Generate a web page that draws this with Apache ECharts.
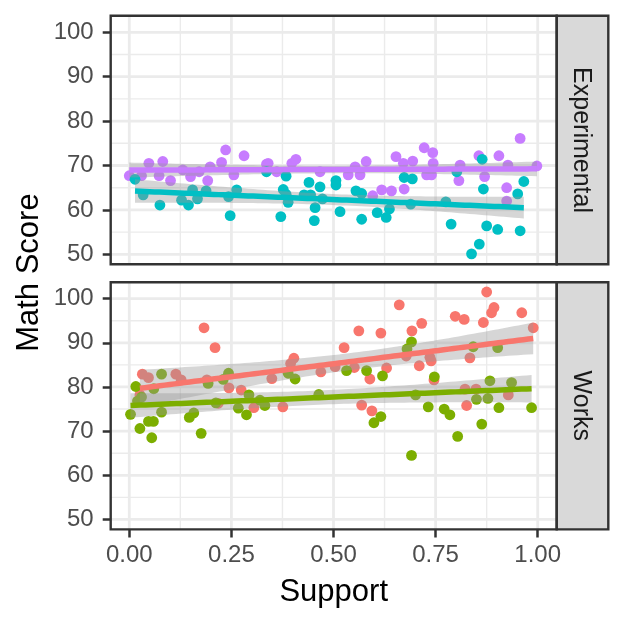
<!DOCTYPE html>
<html><head><meta charset="utf-8">
<script src="https://cdn.jsdelivr.net/npm/echarts@6/dist/echarts.min.js"></script>
<style>html,body{margin:0;padding:0;background:#fff}#c{width:624px;height:624px}</style>
</head><body><div id="c"></div>
<script>
// ---- data ----
const xTicks = [0, 0.25, 0.5, 0.75, 1];
const xMinorTicks = [0.125, 0.375, 0.625, 0.875];
const yTicks = [50, 60, 70, 80, 90, 100];
const yMinorTicks = [55, 65, 75, 85, 95];
const panelNames = ['Experimental', 'Works'];
const xTitle = 'Support';
const yTitle = 'Math Score';

const expPurpleX = [0.000,0.030,0.048,0.073,0.082,0.101,0.131,0.150,0.171,0.192,0.198,0.226,0.236,0.256,0.281,0.336,0.340,0.361,0.398,0.408,0.467,0.536,0.553,0.565,0.580,0.596,0.618,0.642,0.653,0.671,0.673,0.694,0.722,0.728,0.740,0.743,0.744,0.807,0.810,0.856,0.870,0.905,0.924,0.924,0.927,0.957,0.998];
const expPurpleY = [67.7,67.7,70.5,67.7,70.9,66.6,69.0,67.5,68.6,66.6,69.7,70.7,73.5,67.9,72.2,70.3,70.5,68.6,70.5,71.4,68.6,67.9,69.7,67.9,70.9,63.2,64.5,64.3,72.0,70.5,64.7,71.0,74.0,67.9,67.9,72.9,70.5,66.6,70.1,72.2,67.5,72.2,65.0,62.0,70.1,76.1,69.9];

const expCyanX = [0.014,0.034,0.075,0.128,0.145,0.155,0.167,0.188,0.243,0.247,0.263,0.336,0.371,0.377,0.384,0.384,0.389,0.428,0.440,0.444,0.453,0.455,0.467,0.473,0.506,0.506,0.516,0.555,0.569,0.569,0.607,0.629,0.637,0.673,0.689,0.693,0.775,0.788,0.802,0.838,0.857,0.864,0.867,0.875,0.902,0.951,0.957,0.966];
const expCyanY = [66.9,63.4,61.1,62.2,61.1,64.5,62.5,64.3,63.0,58.7,64.5,68.6,58.5,64.6,67.6,63.5,61.7,63.4,66.2,63.4,57.6,60.5,65.2,62.5,66.6,65.6,59.6,64.3,63.7,57.9,59.4,58.3,60.2,67.3,61.3,67.0,61.8,56.8,68.6,50.1,52.3,71.4,64.7,56.4,55.6,63.6,55.3,66.4];

const worksRedX = [0.026,0.032,0.047,0.114,0.127,0.183,0.190,0.210,0.218,0.244,0.274,0.305,0.349,0.376,0.395,0.403,0.469,0.504,0.526,0.551,0.562,0.569,0.589,0.594,0.616,0.630,0.661,0.678,0.692,0.710,0.716,0.736,0.739,0.746,0.798,0.820,0.822,0.826,0.834,0.849,0.867,0.875,0.887,0.893,0.928,0.961,0.989];
const worksRedY = [78.2,82.9,82.1,82.9,81.6,93.4,81.6,88.9,76.3,79.8,79.3,75.3,81.9,75.5,85.3,86.5,83.4,84.6,88.9,84.4,92.7,75.9,81.8,74.6,92.2,84.3,98.6,87.0,92.7,84.8,94.4,86.7,85.9,81.6,96.0,95.3,79.5,75.8,86.6,79.5,94.6,101.5,96.8,98.0,78.2,96.8,93.4];

const worksGreenX = [0.003,0.016,0.020,0.026,0.030,0.047,0.055,0.059,0.060,0.079,0.079,0.147,0.158,0.176,0.193,0.212,0.230,0.243,0.267,0.287,0.293,0.320,0.332,0.389,0.406,0.464,0.532,0.581,0.599,0.616,0.620,0.680,0.691,0.691,0.701,0.732,0.747,0.771,0.785,0.804,0.842,0.850,0.863,0.878,0.883,0.902,0.905,0.936,0.985];
const worksGreenY = [73.8,80.1,76.8,70.6,77.7,72.2,68.5,72.2,79.6,82.9,74.3,73.1,74.1,69.5,80.8,76.4,81.7,83.1,75.2,73.7,78.2,77.0,75.8,83.1,81.8,78.3,83.7,83.7,71.9,73.3,82.5,88.6,90.2,64.5,78.2,75.5,82.3,75.0,73.7,68.8,89.1,77.2,71.6,77.4,81.4,88.9,75.3,81.0,75.3];

// ---- layout / style ----
const FONT = '"Liberation Sans", Arial, sans-serif';
const X_MIN = -0.0455, X_MAX = 1.0465;
const Y_MIN = 47.75, Y_MAX = 103.72;
const GL = 110.7, GW = 446;
const grids = [{top: 15.8, height: 248.5}, {top: 282.2, height: 247.2}];
const STRIP_W = 51.6;

function tq(df) { const z = 1.959964; return z + (z*z*z + z)/(4*df) + (5*Math.pow(z,5) + 16*z*z*z + 3*z)/(96*df*df); }
function smooth(xs, ys) {
  const n = xs.length; let mx = 0, my = 0;
  for (let i = 0; i < n; i++) { mx += xs[i]; my += ys[i]; }
  mx /= n; my /= n;
  let sxx = 0, sxy = 0;
  for (let i = 0; i < n; i++) { sxx += (xs[i]-mx)**2; sxy += (xs[i]-mx)*(ys[i]-my); }
  const b = sxy/sxx, a = my - b*mx;
  let sse = 0;
  for (let i = 0; i < n; i++) sse += (ys[i] - a - b*xs[i])**2;
  const s2 = sse/(n-2), t = tq(n-2);
  const xmin = Math.min(...xs), xmax = Math.max(...xs);
  const rows = [];
  for (let i = 0; i < 80; i++) {
    const x = xmin + (xmax - xmin)*i/79, yh = a + b*x;
    const se = Math.sqrt(s2*(1/n + (x-mx)**2/sxx));
    rows.push([x, yh, yh - t*se, yh + t*se]);
  }
  return rows;
}

const groups = [
  {p: 0, color: '#C77CFF', xs: expPurpleX, ys: expPurpleY},
  {p: 0, color: '#00BFC4', xs: expCyanX, ys: expCyanY},
  {p: 1, color: '#F8766D', xs: worksRedX, ys: worksRedY},
  {p: 1, color: '#7CAE00', xs: worksGreenX, ys: worksGreenY}
];

const series = [];
// grid lines
for (let p = 0; p < 2; p++) {
  const gl = [];
  xMinorTicks.forEach(v => gl.push([1, v]));
  yMinorTicks.forEach(v => gl.push([3, v]));
  xTicks.forEach(v => gl.push([0, v]));
  yTicks.forEach(v => gl.push([2, v]));
  series.push({
    type: 'custom', xAxisIndex: p, yAxisIndex: p, z: 1, silent: true, animation: false,
    data: gl,
    renderItem: function (params, api) {
      const kind = api.value(0), v = api.value(1);
      const cs = params.coordSys;
      const major = (kind === 0 || kind === 2);
      if (kind <= 1) {
        const x = api.coord([v, Y_MIN])[0];
        return {type: 'line', shape: {x1: x, y1: cs.y, x2: x, y2: cs.y + cs.height},
          style: {stroke: '#EBEBEB', lineWidth: major ? 2.8 : 1.4}};
      } else {
        const y = api.coord([X_MIN, v])[1];
        return {type: 'line', shape: {x1: cs.x, y1: y, x2: cs.x + cs.width, y2: y},
          style: {stroke: '#EBEBEB', lineWidth: major ? 2.8 : 1.4}};
      }
    }
  });
}
// points
groups.forEach(g => {
  series.push({
    type: 'scatter', xAxisIndex: g.p, yAxisIndex: g.p, z: 3, animation: false, clip: false,
    symbolSize: 10.8, itemStyle: {color: g.color, opacity: 1},
    data: g.xs.map((x, i) => [x, g.ys[i]])
  });
});
// smooths
groups.forEach(g => {
  const rows = smooth(g.xs, g.ys);
  series.push({
    type: 'custom', xAxisIndex: g.p, yAxisIndex: g.p, z: 4, silent: true, animation: false,
    data: rows, encode: {x: 0, y: 1},
    renderItem: function (params, api) {
      if (params.dataIndex !== 0) return null;
      const pts = [];
      rows.forEach(r => pts.push(api.coord([r[0], r[3]])));
      for (let i = rows.length - 1; i >= 0; i--) pts.push(api.coord([rows[i][0], rows[i][2]]));
      return {type: 'polygon', shape: {points: pts}, style: {fill: 'rgba(153,153,153,0.4)'}};
    }
  });
  series.push({
    type: 'line', xAxisIndex: g.p, yAxisIndex: g.p, z: 5, animation: false,
    showSymbol: false, symbol: 'none',
    lineStyle: {color: g.color, width: 5.5},
    data: rows.map(r => [r[0], r[1]])
  });
});

const tickStyle = {color: '#333333', width: 2.5};
const option = {
  backgroundColor: '#ffffff',
  animation: false,
  grid: grids.map(g => ({left: GL, width: GW, top: g.top, height: g.height, show: false})),
  xAxis: [0, 1].map(p => ({
    type: 'value', gridIndex: p, min: X_MIN, max: X_MAX,
    axisLine: {show: false, onZero: false},
    splitLine: {show: false},
    axisTick: {show: p === 1, customValues: xTicks, length: 8, lineStyle: tickStyle},
    axisLabel: {show: p === 1, customValues: xTicks, formatter: v => Number(v).toFixed(2),
      fontSize: 24, fontFamily: FONT, color: '#4D4D4D', margin: 14}
  })),
  yAxis: [0, 1].map(p => ({
    type: 'value', gridIndex: p, min: Y_MIN, max: Y_MAX,
    axisLine: {show: false, onZero: false},
    splitLine: {show: false},
    axisTick: {show: true, customValues: yTicks, length: 8, lineStyle: tickStyle},
    axisLabel: {show: true, customValues: yTicks, formatter: v => String(Math.round(v)),
      fontSize: 24, fontFamily: FONT, color: '#4D4D4D', margin: 17}
  })),
  series: series,
  graphic: [].concat(
    grids.map(g => ({type: 'rect', z: 100, silent: true,
      shape: {x: GL, y: g.top, width: GW, height: g.height},
      style: {fill: null, stroke: '#333333', lineWidth: 2.4}})),
    grids.map(g => ({type: 'rect', z: 99, silent: true,
      shape: {x: GL + GW, y: g.top, width: STRIP_W, height: g.height},
      style: {fill: '#D9D9D9', stroke: '#333333', lineWidth: 2.4}})),
    grids.map((g, i) => ({type: 'text', z: 101, silent: true,
      x: GL + GW + STRIP_W/2 - 2, y: g.top + g.height/2, rotation: -Math.PI/2,
      style: {text: panelNames[i], font: '25px ' + FONT, fill: '#1A1A1A', align: 'center', verticalAlign: 'middle'}})),
    [{type: 'text', z: 101, silent: true, x: 29.5, y: (grids[0].top + grids[1].top + grids[1].height)/2,
      rotation: Math.PI/2,
      style: {text: yTitle, font: '31px ' + FONT, fill: '#000000', align: 'center', verticalAlign: 'middle'}},
     {type: 'text', z: 101, silent: true, x: GL + GW/2, y: 592,
      style: {text: xTitle, font: '31px ' + FONT, fill: '#000000', align: 'center', verticalAlign: 'middle'}}]
  )
};
const chart = echarts.init(document.getElementById('c'));
chart.setOption(option);
</script>
</body></html>
